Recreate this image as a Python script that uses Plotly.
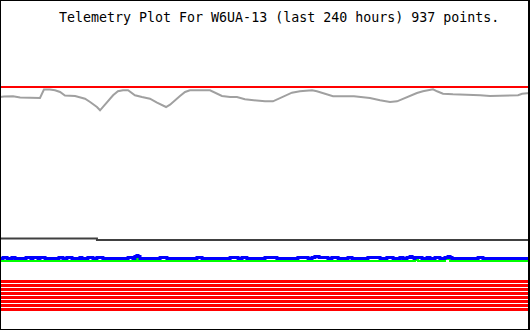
import plotly.graph_objects as go

# ---- data (x in hours over the last 240 h, y in raw plot units) ----
TITLE = "Telemetry Plot For W6UA-13 (last 240 hours) 937 points."

limit_hours = [0, 240]
limit_vals = [243, 243]

gray_hours = [0.0, 1.8, 5.9, 9.1, 18.1, 18.6, 19.9, 22.6, 24.9, 27.2, 29.4, 34.0, 36.2,
              38.5, 40.8, 43.9, 45.3, 46.6, 48.9, 51.2, 53.4, 55.7, 58.0, 58.9, 61.1,
              64.3, 67.9, 71.1, 73.8, 75.2, 77.0, 79.2, 80.2, 81.5, 83.8, 86.0, 95.1,
              97.4, 100.5, 104.2, 107.3, 110.9, 115.5, 120.0, 123.6, 126.8, 130.0,
              132.2, 135.8, 139.0, 141.3, 143.5, 147.2, 150.8, 160.3, 165.3, 167.5,
              172.1, 176.6, 179.8, 182.5, 185.7, 188.8, 191.5, 194.7, 196.1, 197.9,
              200.6, 205.1, 212.8, 217.4, 221.9, 230.9, 234.6, 236.4, 240.0]
gray_vals = [233, 233.5, 233.7, 232.5, 232, 234.7, 240.5, 240.5, 239.7, 238, 234.5, 234,
             233, 231.3, 228, 223, 219.7, 223, 228, 234.7, 238.7, 239.7, 239.7, 238,
             234.7, 233, 231.3, 227.3, 224, 223, 225.3, 229.7, 232, 234, 238, 239.7,
             239.7, 237.3, 234, 233, 233, 230.7, 229.7, 228.7, 228.7, 232, 234.7, 237.3,
             238.7, 239.7, 239.7, 238.7, 236.3, 233.7, 233.7, 233, 232, 229.7, 228,
             228.7, 231.3, 234, 237, 238.7, 240, 240.7, 238.7, 236.3, 235.7, 235.3,
             234.7, 234, 234, 234.7, 236.3, 237]

dark_hours = [0, 43.9, 240]
dark_vals = [91.5, 90, 90]

B = 71.5
blue_hours = [0, 1.4, 3.2, 5.4, 6.8, 11.8, 14.0, 14.9, 17.2, 18.1, 20.4, 26.7, 28.5, 30.3,
              32.6, 36.2, 37.1, 39.8, 42.1, 43.9, 46.6, 58.0, 60.2, 61.1, 62.0, 62.5,
              63.4, 72.5, 75.6, 89.2, 91.5, 104.2, 107.8, 109.6, 111.8, 120.0, 125.4,
              134.9, 139.5, 141.3, 142.6, 144.5, 148.5, 150.3, 153.1, 157.6, 159.4,
              166.6, 172.1, 175.2, 178.0, 181.1, 182.5, 184.3, 185.7, 186.6, 187.5,
              187.9, 191.1, 193.4, 194.7, 197.0, 199.2, 201.5, 202.9, 203.8, 204.7,
              216.5, 218.7, 240]
blue_vals = [B, B+1, B, B+1, B, B+1, B, B+1, B, B+1, B, B+1, B, B+1,
             B, B+1, B, B+1, B, B+1, B, B+1, B, B+2, B+3, B+2,
             B, B+1, B, B+1, B, B+1, B, B+1, B, B+1, B,
             B+1, B, B+1, B+2, B+1, B, B+1, B, B+1, B,
             B+1, B, B+1, B, B+1, B, B+1, B+2, B+1, B,
             B+1, B, B+1, B, B+1, B, B+1, B+2, B+1, B,
             B+1, B, B]

G = 69
green_hours = [0, 61.6, 62.5, 187.9, 189.3, 194.3, 195.2, 201.5, 203.8, 240]
green_vals = [G, G+2, G, G+1, G, G+1, G, G+2, G, G]

bit_levels = [48.5, 44.5, 40.5, 36.5, 32.5, 28.5, 24.5, 20.5]

# ---- figure ----
W, H = 530, 330
fig = go.Figure()

for lvl in bit_levels:
    fig.add_trace(go.Scatter(x=limit_hours, y=[lvl, lvl], mode="lines",
                             line=dict(color="#ff0000", width=3), hoverinfo="skip"))

fig.add_trace(go.Scatter(x=dark_hours, y=dark_vals, mode="lines", line_shape="hv",
                         line=dict(color="#404040", width=2), hoverinfo="skip"))
fig.add_trace(go.Scatter(x=green_hours, y=green_vals, mode="lines", line_shape="hv",
                         line=dict(color="#00ff00", width=2), hoverinfo="skip"))
fig.add_trace(go.Scatter(x=blue_hours, y=blue_vals, mode="lines", line_shape="hv",
                         line=dict(color="#0000ff", width=3), hoverinfo="skip"))
fig.add_trace(go.Scatter(x=gray_hours, y=gray_vals, mode="lines",
                         line=dict(color="#a0a0a0", width=2), hoverinfo="skip"))
fig.add_trace(go.Scatter(x=limit_hours, y=limit_vals, mode="lines",
                         line=dict(color="#ff0000", width=2), hoverinfo="skip"))

border = dict(color="black", width=1)
fig.add_shape(type="line", xref="paper", yref="paper", x0=0.5/W, x1=0.5/W, y0=0, y1=1, line=border)
fig.add_shape(type="line", xref="paper", yref="paper", x0=529/W, x1=529/W, y0=0, y1=1,
              line=dict(color="black", width=2))
fig.add_shape(type="line", xref="paper", yref="paper", x0=0, x1=1, y0=1-0.5/H, y1=1-0.5/H, line=border)
fig.add_shape(type="line", xref="paper", yref="paper", x0=0, x1=1, y0=0.5/H, y1=0.5/H, line=border)

fig.add_annotation(text=TITLE, xref="paper", yref="paper", x=56.5/W, y=1-17/H,
                   xanchor="left", yanchor="middle", showarrow=False,
                   font=dict(family="DejaVu Sans Mono", size=13.3, color="black"))

fig.update_layout(width=W, height=H, margin=dict(l=0, r=0, t=0, b=0),
                  paper_bgcolor="white", plot_bgcolor="white", showlegend=False,
                  xaxis=dict(range=[0, 240], visible=False, fixedrange=True),
                  yaxis=dict(range=[0, 330], visible=False, fixedrange=True))

fig.write_html("out.html", config={"displayModeBar": False})
